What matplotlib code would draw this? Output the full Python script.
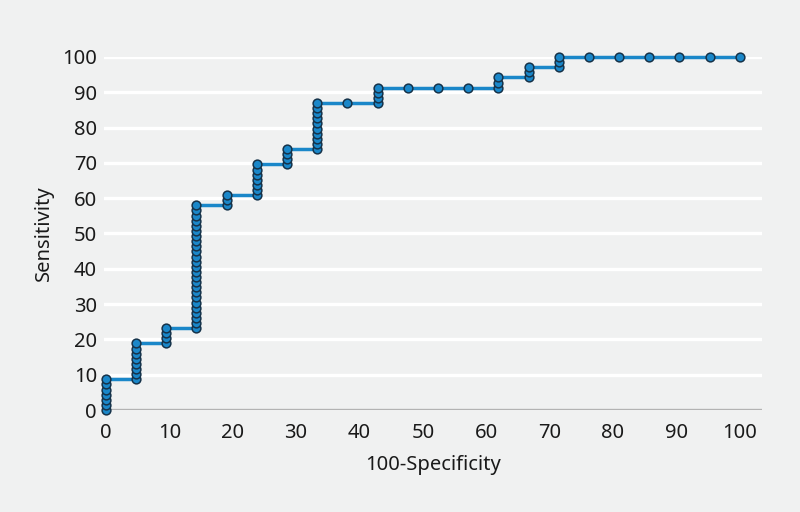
import matplotlib.pyplot as plt

# ROC points, as counts: 21 negatives, 69 positives
n_neg = 21
n_pos = 69
fp_count = [0, 0, 0, 0, 0, 0, 0,
            1, 1, 1, 1, 1, 1, 1, 1,
            2, 2, 2, 2,
            3, 3, 3, 3, 3, 3, 3, 3, 3, 3, 3, 3, 3, 3, 3, 3, 3, 3, 3, 3, 3, 3, 3, 3, 3,
            4, 4, 4,
            5, 5, 5, 5, 5, 5, 5,
            6, 6, 6, 6,
            7, 7, 7, 7, 7, 7, 7, 7, 7, 7,
            8,
            9, 9, 9, 9,
            10, 11, 12,
            13, 13, 13,
            14, 14, 14,
            15, 15, 15,
            16, 17, 18, 19, 20, 21]
tp_count = [0, 1, 2, 3, 4, 5, 6,
            6, 7, 8, 9, 10, 11, 12, 13,
            13, 14, 15, 16,
            16, 17, 18, 19, 20, 21, 22, 23, 24, 25, 26, 27, 28, 29, 30, 31, 32, 33, 34, 35, 36, 37, 38, 39, 40,
            40, 41, 42,
            42, 43, 44, 45, 46, 47, 48,
            48, 49, 50, 51,
            51, 52, 53, 54, 55, 56, 57, 58, 59, 60,
            60,
            60, 61, 62, 63,
            63, 63, 63,
            63, 64, 65,
            65, 66, 67,
            67, 68, 69,
            69, 69, 69, 69, 69, 69]
x_ticks = [0, 10, 20, 30, 40, 50, 60, 70, 80, 90, 100]
y_ticks = [0, 10, 20, 30, 40, 50, 60, 70, 80, 90, 100]

spec = [100 * v / n_neg for v in fp_count]
sens = [100 * v / n_pos for v in tp_count]

bg = '#f0f1f1'
blue = '#1a87c9'

plt.rcParams['font.family'] = ['Noto Sans', 'DejaVu Sans']
fig = plt.figure(figsize=(8, 5.12), dpi=100, facecolor=bg)
ax = fig.add_axes([0.13, 0.1992, 0.8225, 0.6895], facecolor=bg)

for y in y_ticks[1:]:
    ax.axhline(y, color='white', lw=2.4, zorder=1)
ax.axhline(0, color='#b3b3b3', lw=2.4, zorder=1)

ax.plot(spec, sens, color=blue, lw=2.5, zorder=3, clip_on=False)
ax.plot(spec, sens, ls='none', marker='o', ms=6.3, mfc=blue, mec='#16334a',
        mew=1.1, zorder=4, clip_on=False)

ax.set_xlim(-0.3, 103.5)
ax.set_ylim(0, 100)
ax.set_xticks(x_ticks)
ax.set_yticks(y_ticks)
ax.tick_params(length=0, labelsize=14.5, colors='#1a1a1a')
ax.tick_params(axis='x', pad=9)
ax.tick_params(axis='y', pad=5)
for s in ax.spines.values():
    s.set_visible(False)
ax.set_xlabel('100-Specificity', fontsize=14.5, color='#1a1a1a', labelpad=9)
ax.set_ylabel('Sensitivity', fontsize=14.5, color='#1a1a1a', labelpad=6)

fig.savefig('out.png', dpi=100, facecolor=bg)
